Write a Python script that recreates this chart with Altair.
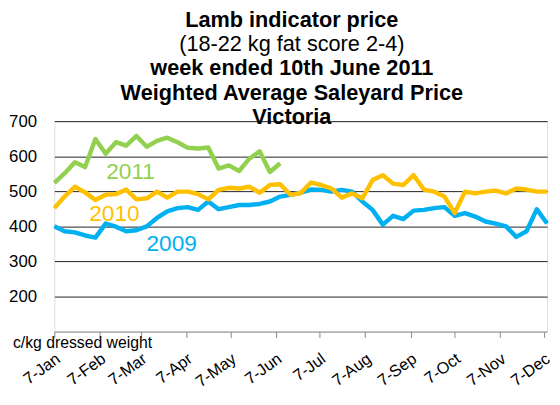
import altair as alt
import pandas as pd

FONT = "Liberation Sans"

SERIES = ["2009", "2010", "2011"]
COLORS = ["#00B0F0", "#FFC000", "#92D050"]

V2009 = [400, 386, 383, 374, 368, 408, 399, 386, 389, 400,
         424, 443, 452, 455, 447, 471, 449, 455, 461, 461,
         464, 471, 485, 490, 496, 505, 504, 499, 504, 499,
         471, 447, 405, 430, 421, 445, 447, 452, 455, 430,
         438, 428, 414, 408, 400, 370, 386, 449, 408]
V2010 = [452, 485, 513, 497, 475, 490, 492, 505, 477, 480,
         499, 482, 499, 499, 492, 477, 504, 510, 508, 513,
         496, 518, 520, 490, 495, 525, 518, 508, 482, 494,
         480, 532, 546, 522, 518, 546, 505, 499, 485, 438,
         499, 494, 499, 502, 494, 508, 505, 499, 499]
V2011 = [524, 551, 583, 569, 649, 607, 640, 630, 658, 627,
         644, 653, 640, 624, 622, 625, 565, 574, 558, 593,
         614, 555, 580]

FIRST_WEEK = "2009-01-07"   # weeks plotted on a common (dummy-year) calendar
STEP_DAYS = 7

MONTHS = list(range(1, 13))
Y_TICKS = [200, 300, 400, 500, 600, 700]

TITLE_LINES = ["Lamb indicator price", "(18-22 kg fat score 2-4)",
               "week ended 10th June 2011", "Weighted Average Saleyard Price",
               "Victoria"]
TITLE_WEIGHTS = ["bold", "normal", "bold", "bold", "bold"]

LABEL_SERIES = ["2011", "2010", "2009"]
LABEL_DATES = ["2009-02-28T00:00:00", "2009-02-17T00:00:00", "2009-03-28T00:00:00"]
LABEL_VALUES = [554, 436, 349]

Y_TITLE = "c/kg dressed weight"

# ---- build table ----
rows = []
start = pd.Timestamp(FIRST_WEEK)
for s, vals in zip(SERIES, [V2009, V2010, V2011]):
    for i, v in enumerate(vals):
        d = start + pd.Timedelta(days=i * STEP_DAYS)
        rows.append({"series": s, "date": d.strftime("%Y-%m-%dT%H:%M:%S"), "value": v})
df = pd.DataFrame(rows)
last_date = max(pd.Timestamp(d) for d in df["date"])

labels = pd.DataFrame({"series": LABEL_SERIES, "date": LABEL_DATES, "value": LABEL_VALUES})

color_scale = alt.Scale(domain=SERIES, range=COLORS)

x_enc = alt.X(
    "date:T",
    scale=alt.Scale(domain=[alt.DateTime(year=start.year, month=start.month, date=start.day),
                            alt.DateTime(year=last_date.year, month=last_date.month, date=last_date.day)]),
    axis=alt.Axis(
        values=[alt.DateTime(year=2009, month=m, date=7) for m in MONTHS],
        format="%-d-%b", labelAngle=-36, labelAlign="right", labelBaseline="top",
        labelPadding=13, labelOffset=-1, labelFlush=False, labelFontSize=16.5, labelFont=FONT,
        labelColor="#000", domainColor="#888", tickColor="#888", tickSize=6, grid=False,
        title=None, labelOverlap=False,
    ),
)
y_enc = alt.Y(
    "value:Q",
    scale=alt.Scale(domain=[100, 700], nice=False, zero=False),
    axis=alt.Axis(
        values=Y_TICKS, title=None, domain=False, ticks=False, grid=True,
        gridColor="#222", gridWidth=1, labelPadding=18, labelFontSize=17,
        labelFont=FONT, labelColor="#000",
    ),
)

lines = alt.Chart(df).mark_line(strokeWidth=4.5, strokeJoin="round", strokeCap="butt").encode(
    x=x_enc, y=y_enc,
    color=alt.Color("series:N", scale=color_scale, legend=None),
    order=alt.Order("date:T"),
)

series_labels = alt.Chart(labels).mark_text(fontSize=23, font=FONT, align="center", baseline="middle").encode(
    x="date:T", y="value:Q", text="series:N",
    color=alt.Color("series:N", scale=color_scale, legend=None),
)

layers = [lines, series_labels]

TITLE_X = 241
TITLE_Y0 = -96
TITLE_STEP = 24.8
for k, (line, w) in enumerate(zip(TITLE_LINES, TITLE_WEIGHTS)):
    layers.append(
        alt.Chart(pd.DataFrame({"t": [line]})).mark_text(
            font=FONT, fontSize=22, fontWeight=w, align="center", baseline="alphabetic", color="#000"
        ).encode(text="t:N", x=alt.value(TITLE_X), y=alt.value(TITLE_Y0 + k * TITLE_STEP))
    )

layers.append(
    alt.Chart(pd.DataFrame({"t": [Y_TITLE]})).mark_text(
        font=FONT, fontSize=16, align="left", baseline="middle", color="#000"
    ).encode(text="t:N", x=alt.value(-42), y=alt.value(225))
)

chart = alt.layer(*layers).properties(
    width=500, height=213.5,
    autosize=alt.AutoSizeParams(type="none"),
    padding={"left": 47, "top": 112, "right": 5, "bottom": 60},
).configure_view(stroke=None).configure(background="white")

chart.save("out.html", embed_options={"renderer": "svg", "actions": False})
